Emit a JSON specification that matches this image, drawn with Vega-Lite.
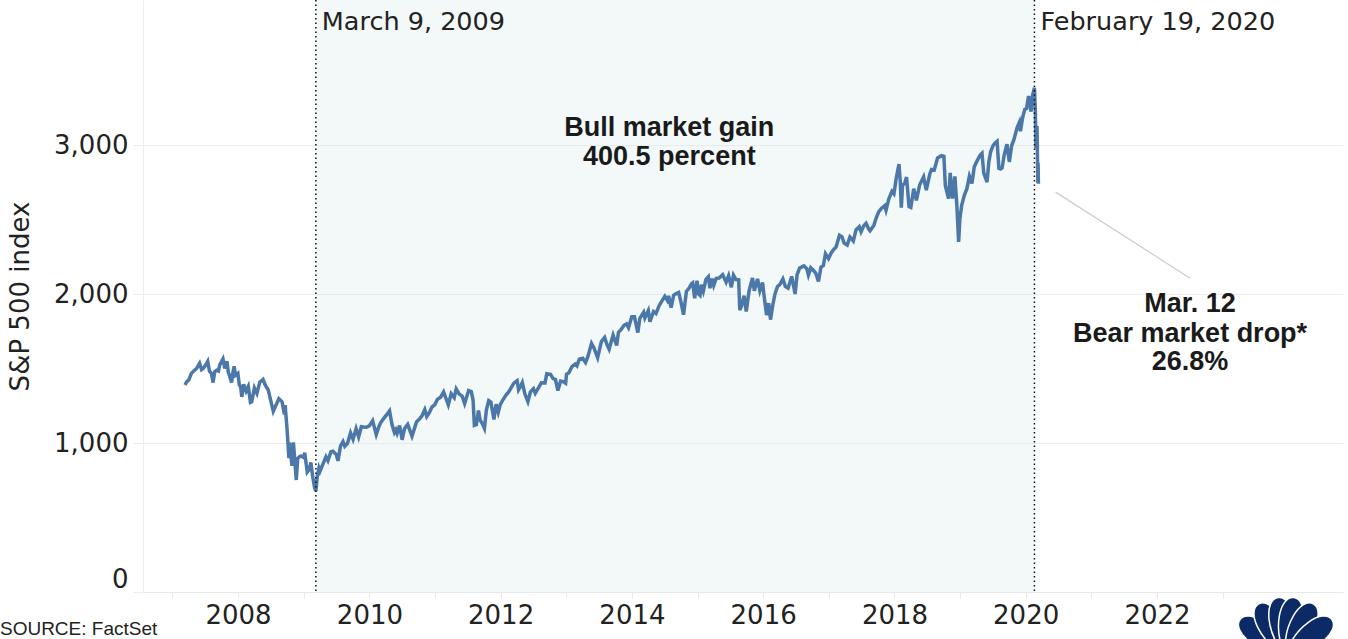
{
  "$schema": "https://vega.github.io/schema/vega-lite/v6.json",
  "width": 1200,
  "height": 592,
  "autosize": {"type": "none"},
  "padding": {"left": 143, "top": 0, "right": 5, "bottom": 47},
  "background": "white",
  "config": {"view": {"stroke": null}},
  "datasets": {
    "sp": [
      {"d":"2007-03-12","v":1390},{"d":"2007-03-20","v":1410},{"d":"2007-04-02","v":1424},{"d":"2007-04-16","v":1468},{"d":"2007-05-01","v":1486},{"d":"2007-05-15","v":1501},{"d":"2007-06-01","v":1536},{"d":"2007-06-12","v":1493},{"d":"2007-06-22","v":1502},{"d":"2007-07-02","v":1519},{"d":"2007-07-16","v":1549},{"d":"2007-07-26","v":1482},{"d":"2007-08-06","v":1467},{"d":"2007-08-15","v":1406},{"d":"2007-08-24","v":1479},{"d":"2007-09-04","v":1489},{"d":"2007-09-14","v":1484},{"d":"2007-09-21","v":1525},{"d":"2007-10-01","v":1547},{"d":"2007-10-09","v":1565},{"d":"2007-10-19","v":1501},{"d":"2007-10-31","v":1549},{"d":"2007-11-08","v":1474},{"d":"2007-11-15","v":1451},{"d":"2007-11-26","v":1407},{"d":"2007-12-03","v":1472},{"d":"2007-12-10","v":1515},{"d":"2007-12-18","v":1455},{"d":"2007-12-31","v":1468},
      {"d":"2008-01-08","v":1390},{"d":"2008-01-15","v":1380},{"d":"2008-01-22","v":1310},{"d":"2008-02-01","v":1395},{"d":"2008-02-15","v":1349},{"d":"2008-02-27","v":1380},{"d":"2008-03-10","v":1273},{"d":"2008-03-17","v":1277},{"d":"2008-04-01","v":1370},{"d":"2008-04-15","v":1334},{"d":"2008-05-01","v":1409},{"d":"2008-05-19","v":1427},{"d":"2008-06-02","v":1385},{"d":"2008-06-16","v":1360},{"d":"2008-07-01","v":1285},{"d":"2008-07-15","v":1214},{"d":"2008-08-01","v":1260},{"d":"2008-08-15","v":1298},{"d":"2008-09-02","v":1277},{"d":"2008-09-15","v":1193},{"d":"2008-09-19","v":1255},{"d":"2008-09-29","v":1106},{"d":"2008-10-10","v":899},{"d":"2008-10-13","v":1003},{"d":"2008-10-27","v":848},{"d":"2008-11-04","v":1005},{"d":"2008-11-20","v":752},{"d":"2008-11-28","v":896},{"d":"2008-12-08","v":909},{"d":"2008-12-16","v":913},{"d":"2008-12-31","v":903},
      {"d":"2009-01-06","v":935},{"d":"2009-01-20","v":805},{"d":"2009-02-02","v":826},{"d":"2009-02-09","v":870},{"d":"2009-02-20","v":770},{"d":"2009-03-02","v":700},{"d":"2009-03-09","v":677},{"d":"2009-03-17","v":778},{"d":"2009-03-26","v":832},{"d":"2009-04-01","v":811},{"d":"2009-04-15","v":852},{"d":"2009-05-04","v":907},{"d":"2009-05-15","v":882},{"d":"2009-06-01","v":942},{"d":"2009-06-12","v":946},{"d":"2009-07-01","v":923},{"d":"2009-07-10","v":880},{"d":"2009-07-24","v":979},{"d":"2009-08-07","v":1010},{"d":"2009-08-17","v":979},{"d":"2009-09-01","v":998},{"d":"2009-09-18","v":1068},{"d":"2009-10-02","v":1025},{"d":"2009-10-19","v":1097},{"d":"2009-11-02","v":1042},{"d":"2009-11-17","v":1110},{"d":"2009-12-01","v":1108},{"d":"2009-12-15","v":1107},{"d":"2009-12-31","v":1115},
      {"d":"2010-01-19","v":1150},{"d":"2010-02-08","v":1057},{"d":"2010-02-22","v":1108},{"d":"2010-03-05","v":1138},{"d":"2010-03-22","v":1166},{"d":"2010-04-05","v":1187},{"d":"2010-04-23","v":1217},{"d":"2010-05-06","v":1128},{"d":"2010-05-20","v":1071},{"d":"2010-05-28","v":1089},{"d":"2010-06-04","v":1065},{"d":"2010-06-18","v":1117},{"d":"2010-07-02","v":1022},{"d":"2010-07-15","v":1096},{"d":"2010-08-02","v":1125},{"d":"2010-08-16","v":1079},{"d":"2010-08-26","v":1047},{"d":"2010-09-07","v":1092},{"d":"2010-09-20","v":1142},{"d":"2010-10-05","v":1160},{"d":"2010-10-20","v":1182},{"d":"2010-11-05","v":1225},{"d":"2010-11-16","v":1178},{"d":"2010-12-01","v":1206},{"d":"2010-12-15","v":1242},{"d":"2010-12-31","v":1258},
      {"d":"2011-01-14","v":1293},{"d":"2011-02-01","v":1308},{"d":"2011-02-18","v":1343},{"d":"2011-03-01","v":1306},{"d":"2011-03-16","v":1257},{"d":"2011-04-01","v":1332},{"d":"2011-04-18","v":1305},{"d":"2011-04-29","v":1364},{"d":"2011-05-16","v":1329},{"d":"2011-06-01","v":1315},{"d":"2011-06-15","v":1265},{"d":"2011-07-07","v":1353},{"d":"2011-07-22","v":1346},{"d":"2011-08-01","v":1287},{"d":"2011-08-08","v":1119},{"d":"2011-08-19","v":1123},{"d":"2011-08-31","v":1218},{"d":"2011-09-09","v":1154},{"d":"2011-09-22","v":1129},{"d":"2011-10-03","v":1099},{"d":"2011-10-14","v":1224},{"d":"2011-10-27","v":1285},{"d":"2011-11-08","v":1275},{"d":"2011-11-25","v":1158},{"d":"2011-12-07","v":1261},{"d":"2011-12-19","v":1206},{"d":"2011-12-30","v":1258},
      {"d":"2012-01-13","v":1289},{"d":"2012-02-01","v":1324},{"d":"2012-02-15","v":1343},{"d":"2012-03-01","v":1374},{"d":"2012-03-15","v":1402},{"d":"2012-04-02","v":1419},{"d":"2012-04-10","v":1358},{"d":"2012-04-25","v":1391},{"d":"2012-05-01","v":1406},{"d":"2012-05-15","v":1331},{"d":"2012-06-01","v":1278},{"d":"2012-06-15","v":1343},{"d":"2012-07-02","v":1365},{"d":"2012-07-12","v":1334},{"d":"2012-08-01","v":1375},{"d":"2012-08-15","v":1405},{"d":"2012-09-04","v":1404},{"d":"2012-09-14","v":1465},{"d":"2012-10-05","v":1461},{"d":"2012-10-19","v":1433},{"d":"2012-11-01","v":1428},{"d":"2012-11-15","v":1353},{"d":"2012-11-30","v":1416},{"d":"2012-12-14","v":1413},{"d":"2012-12-28","v":1402},
      {"d":"2013-01-02","v":1462},{"d":"2013-01-15","v":1472},{"d":"2013-02-01","v":1513},{"d":"2013-02-19","v":1530},{"d":"2013-03-01","v":1518},{"d":"2013-03-14","v":1563},{"d":"2013-04-02","v":1570},{"d":"2013-04-18","v":1541},{"d":"2013-05-01","v":1582},{"d":"2013-05-21","v":1669},{"d":"2013-06-03","v":1640},{"d":"2013-06-24","v":1573},{"d":"2013-07-02","v":1614},{"d":"2013-07-15","v":1682},{"d":"2013-08-02","v":1709},{"d":"2013-08-15","v":1661},{"d":"2013-08-27","v":1630},{"d":"2013-09-18","v":1725},{"d":"2013-10-08","v":1655},{"d":"2013-10-18","v":1744},{"d":"2013-11-01","v":1761},{"d":"2013-11-18","v":1791},{"d":"2013-12-02","v":1800},{"d":"2013-12-13","v":1775},{"d":"2013-12-31","v":1848},
      {"d":"2014-01-15","v":1848},{"d":"2014-02-03","v":1742},{"d":"2014-02-14","v":1838},{"d":"2014-03-07","v":1878},{"d":"2014-03-14","v":1841},{"d":"2014-04-02","v":1890},{"d":"2014-04-11","v":1815},{"d":"2014-05-01","v":1883},{"d":"2014-05-15","v":1870},{"d":"2014-06-02","v":1924},{"d":"2014-06-18","v":1956},{"d":"2014-07-03","v":1985},{"d":"2014-07-17","v":1958},{"d":"2014-07-24","v":1988},{"d":"2014-08-07","v":1909},{"d":"2014-08-21","v":1992},{"d":"2014-09-02","v":2002},{"d":"2014-09-18","v":2011},{"d":"2014-10-01","v":1946},{"d":"2014-10-15","v":1862},{"d":"2014-10-31","v":2018},{"d":"2014-11-14","v":2039},{"d":"2014-11-28","v":2068},{"d":"2014-12-05","v":2075},{"d":"2014-12-16","v":1972},{"d":"2014-12-29","v":2090},
      {"d":"2015-01-06","v":2002},{"d":"2015-01-15","v":1992},{"d":"2015-01-22","v":2063},{"d":"2015-02-02","v":2020},{"d":"2015-02-17","v":2100},{"d":"2015-03-02","v":2117},{"d":"2015-03-11","v":2040},{"d":"2015-03-23","v":2104},{"d":"2015-04-01","v":2059},{"d":"2015-04-15","v":2106},{"d":"2015-05-01","v":2108},{"d":"2015-05-21","v":2131},{"d":"2015-06-09","v":2080},{"d":"2015-06-23","v":2124},{"d":"2015-07-08","v":2046},{"d":"2015-07-20","v":2128},{"d":"2015-08-03","v":2098},{"d":"2015-08-18","v":2096},{"d":"2015-08-24","v":1893},{"d":"2015-09-01","v":1914},{"d":"2015-09-17","v":1990},{"d":"2015-09-29","v":1884},{"d":"2015-10-15","v":2023},{"d":"2015-11-03","v":2109},{"d":"2015-11-13","v":2023},{"d":"2015-12-01","v":2102},{"d":"2015-12-14","v":2022},{"d":"2015-12-29","v":2078},
      {"d":"2016-01-04","v":2012},{"d":"2016-01-20","v":1859},{"d":"2016-02-01","v":1940},{"d":"2016-02-11","v":1829},{"d":"2016-02-24","v":1929},{"d":"2016-03-07","v":2001},{"d":"2016-03-21","v":2051},{"d":"2016-04-04","v":2066},{"d":"2016-04-20","v":2102},{"d":"2016-05-04","v":2051},{"d":"2016-05-19","v":2040},{"d":"2016-06-08","v":2119},{"d":"2016-06-27","v":2001},{"d":"2016-07-08","v":2130},{"d":"2016-07-22","v":2175},{"d":"2016-08-15","v":2190},{"d":"2016-08-31","v":2171},{"d":"2016-09-09","v":2128},{"d":"2016-09-22","v":2177},{"d":"2016-10-06","v":2160},{"d":"2016-10-20","v":2141},{"d":"2016-11-04","v":2085},{"d":"2016-11-18","v":2182},{"d":"2016-12-01","v":2191},{"d":"2016-12-13","v":2271},{"d":"2016-12-30","v":2239},
      {"d":"2017-01-13","v":2275},{"d":"2017-01-26","v":2297},{"d":"2017-02-10","v":2316},{"d":"2017-03-01","v":2396},{"d":"2017-03-15","v":2385},{"d":"2017-03-27","v":2342},{"d":"2017-04-13","v":2329},{"d":"2017-04-28","v":2384},{"d":"2017-05-17","v":2357},{"d":"2017-06-01","v":2431},{"d":"2017-06-19","v":2453},{"d":"2017-06-29","v":2419},{"d":"2017-07-14","v":2459},{"d":"2017-07-27","v":2475},{"d":"2017-08-10","v":2438},{"d":"2017-08-18","v":2425},{"d":"2017-09-08","v":2461},{"d":"2017-09-20","v":2508},{"d":"2017-10-05","v":2552},{"d":"2017-10-20","v":2575},{"d":"2017-11-08","v":2594},{"d":"2017-11-15","v":2564},{"d":"2017-12-01","v":2642},{"d":"2017-12-18","v":2690},{"d":"2017-12-29","v":2674},
      {"d":"2018-01-12","v":2786},{"d":"2018-01-26","v":2873},{"d":"2018-02-02","v":2762},{"d":"2018-02-08","v":2581},{"d":"2018-02-15","v":2732},{"d":"2018-02-27","v":2744},{"d":"2018-03-09","v":2786},{"d":"2018-03-23","v":2588},{"d":"2018-04-02","v":2582},{"d":"2018-04-18","v":2708},{"d":"2018-05-03","v":2630},{"d":"2018-05-21","v":2733},{"d":"2018-06-12","v":2787},{"d":"2018-06-27","v":2699},{"d":"2018-07-17","v":2809},{"d":"2018-07-26","v":2837},{"d":"2018-08-10","v":2833},{"d":"2018-08-29","v":2914},{"d":"2018-09-20","v":2930},{"d":"2018-10-03","v":2925},{"d":"2018-10-11","v":2728},{"d":"2018-10-29","v":2641},{"d":"2018-11-07","v":2814},{"d":"2018-11-20","v":2641},{"d":"2018-12-03","v":2790},{"d":"2018-12-14","v":2600},{"d":"2018-12-24","v":2351},{"d":"2018-12-31","v":2507},
      {"d":"2019-01-10","v":2596},{"d":"2019-01-25","v":2665},{"d":"2019-02-08","v":2708},{"d":"2019-02-22","v":2792},{"d":"2019-03-08","v":2743},{"d":"2019-03-21","v":2855},{"d":"2019-04-05","v":2893},{"d":"2019-04-23","v":2934},{"d":"2019-05-03","v":2946},{"d":"2019-05-13","v":2812},{"d":"2019-05-31","v":2752},{"d":"2019-06-10","v":2887},{"d":"2019-06-20","v":2955},{"d":"2019-07-03","v":2996},{"d":"2019-07-15","v":3015},{"d":"2019-07-26","v":3026},{"d":"2019-08-05","v":2845},{"d":"2019-08-14","v":2840},{"d":"2019-08-23","v":2847},{"d":"2019-09-04","v":2937},{"d":"2019-09-19","v":3006},{"d":"2019-10-02","v":2888},{"d":"2019-10-15","v":2996},{"d":"2019-10-28","v":3039},{"d":"2019-11-15","v":3120},{"d":"2019-11-27","v":3154},{"d":"2019-12-03","v":3094},{"d":"2019-12-16","v":3191},{"d":"2019-12-27","v":3240},
      {"d":"2020-01-06","v":3246},{"d":"2020-01-17","v":3330},{"d":"2020-01-31","v":3225},{"d":"2020-02-07","v":3328},{"d":"2020-02-19","v":3386},{"d":"2020-02-24","v":3226},{"d":"2020-02-27","v":2979},{"d":"2020-03-03","v":3003},{"d":"2020-03-04","v":3130},{"d":"2020-03-09","v":2747},{"d":"2020-03-10","v":2882},{"d":"2020-03-12","v":2741}
    ],
    "bull": [{"d":"2009-03-09","d2":"2020-02-19"}],
    "marks": [{"d":"2009-03-09"},{"d":"2020-02-19"}],
    "dateLabels": [{"d":"2009-03-09","v":3826,"t":"March 9, 2009"},{"d":"2020-02-19","v":3826,"t":"February 19, 2020"}],
    "notes": [
      {"d":"2014-07-28","v":3114,"t":"Bull market gain"},
      {"d":"2014-07-28","v":2919,"t":"400.5 percent"},
      {"d":"2022-07-04","v":1933,"t":"Mar. 12"},
      {"d":"2022-07-04","v":1735,"t":"Bear market drop*"},
      {"d":"2022-07-04","v":1544,"t":"26.8%"}
    ],
    "source": [{"d":"2004-05-16","v":-290,"t":"SOURCE: FactSet"}],
    "leader": [{"d":"2020-06-16","v":2685,"d2":"2022-07-04","v2":2107}],
    "logo": [
      {"d":"2023-08-14","v":-303,"a":-52},
      {"d":"2023-10-05","v":-251,"a":-28},
      {"d":"2023-11-28","v":-230,"a":-8},
      {"d":"2024-01-11","v":-230,"a":8},
      {"d":"2024-03-05","v":-251,"a":28},
      {"d":"2024-04-25","v":-303,"a":52}
    ]
  },
  "encoding": {
    "x": {
      "field": "d", "type": "temporal", "title": null,
      "scale": {"domain": ["2006-07-21", "2024-11-01"], "nice": false},
      "axis": {
        "values": [{"year":2007},{"year":2008},{"year":2009},{"year":2010},{"year":2011},{"year":2012},{"year":2013},{"year":2014},{"year":2015},{"year":2016},{"year":2017},{"year":2018},{"year":2019},{"year":2020},{"year":2021},{"year":2022},{"year":2023}],
        "labelExpr": "year(datum.value) % 2 == 0 ? timeFormat(datum.value, '%Y') : ''",
        "labelOverlap": false, "labelFlush": false,
        "grid": false, "domainColor": "#e8e8e8", "tickColor": "#e8e8e8", "tickSize": 6,
        "labelFont": "DejaVu Sans", "labelFontSize": 26, "labelColor": "#222222", "labelPadding": 4
      }
    }
  },
  "layer": [
    {
      "data": {"name": "bull"},
      "mark": {"type": "rect", "color": "#dcebef", "opacity": 0.35},
      "encoding": {"x2": {"field": "d2"}}
    },
    {
      "data": {"name": "sp"},
      "mark": {"type": "line", "color": "#4b78a8", "strokeWidth": 3.5, "interpolate": "linear"},
      "encoding": {
        "y": {
          "field": "v", "type": "quantitative", "title": "S&P 500 index",
          "scale": {"domain": [0, 3975], "nice": false, "zero": true},
          "axis": {
            "values": [0, 1000, 2000, 3000], "format": ",d",
            "grid": true, "gridColor": "#ececec", "domainColor": "#ececec", "tickColor": "#ececec", "tickSize": 10,
            "labelFont": "DejaVu Sans", "labelFontSize": 26, "labelColor": "#222222", "labelPadding": 5, "labelFlush": true,
            "titleFont": "DejaVu Sans", "titleFontSize": 26, "titleFontWeight": "normal", "titleColor": "#222222", "titlePadding": 20
          }
        }
      }
    },
    {
      "data": {"name": "marks"},
      "mark": {"type": "rule", "color": "#111111", "strokeWidth": 1.5, "strokeDash": [1.5, 3]},
      "encoding": {}
    },
    {
      "data": {"name": "leader"},
      "mark": {"type": "rule", "color": "#cccccc", "strokeWidth": 1.2},
      "encoding": {
        "y": {"field": "v", "type": "quantitative", "title": "S&P 500 index"},
        "x2": {"field": "d2"},
        "y2": {"field": "v2"}
      }
    },
    {
      "data": {"name": "dateLabels"},
      "mark": {"type": "text", "align": "left", "baseline": "middle", "dx": 6, "font": "DejaVu Sans", "fontSize": 25.5, "color": "#222222"},
      "encoding": {
        "y": {"field": "v", "type": "quantitative", "title": "S&P 500 index"},
        "text": {"field": "t"}
      }
    },
    {
      "data": {"name": "notes"},
      "mark": {"type": "text", "align": "center", "baseline": "middle", "font": "Liberation Sans", "fontWeight": "bold", "fontSize": 27, "color": "#1a1a1a"},
      "encoding": {
        "y": {"field": "v", "type": "quantitative", "title": "S&P 500 index"},
        "text": {"field": "t"}
      }
    },
    {
      "data": {"name": "source"},
      "mark": {"type": "text", "align": "left", "baseline": "alphabetic", "dx": 0, "font": "Liberation Sans", "fontSize": 19, "color": "#222222"},
      "encoding": {
        "y": {"field": "v", "type": "quantitative", "title": "S&P 500 index"},
        "text": {"field": "t"}
      }
    },
    {
      "data": {"name": "logo"},
      "mark": {"type": "point", "filled": true, "color": "#0c2a66", "opacity": 1, "size": 3364, "shape": "M0,1 C-0.6,0.2 -0.5,-1 0,-1 C0.5,-1 0.6,0.2 0,1 Z", "stroke": "white", "strokeWidth": 1.5},
      "encoding": {
        "y": {"field": "v", "type": "quantitative", "title": "S&P 500 index"},
        "angle": {"field": "a", "type": "quantitative", "scale": null}
      }
    }
  ]
}
